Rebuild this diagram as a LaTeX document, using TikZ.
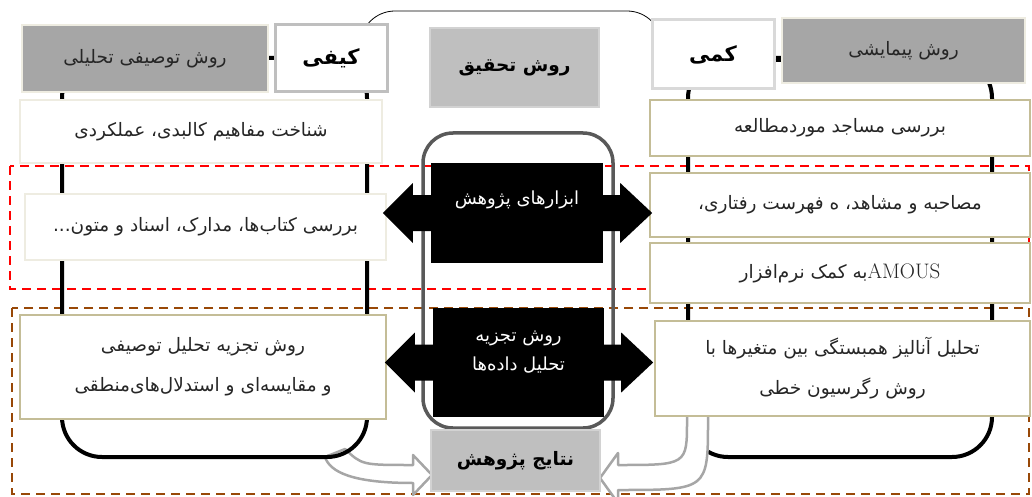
\documentclass[tikz,border=0pt]{standalone}
\usepackage{fontspec}
\newfontfamily\farsi[Script=Arabic]{DejaVu Sans}
\TeXXeTstate=1
\definecolor{boxgray}{HTML}{A6A6A6}
\definecolor{titlegray}{HTML}{BFBFBF}
\definecolor{paleedge}{HTML}{EEECE1}
\definecolor{tanedge}{HTML}{C4BD97}
\definecolor{brownline}{HTML}{984807}
\definecolor{frameline}{HTML}{595959}
\newcommand{\fatext}[1]{\beginR #1\endR}

\begin{document}
\begin{tikzpicture}[x=1pt, y=-1pt,
  block/.style={draw=paleedge, line width=1.5pt, fill=white, inner sep=0pt, text=black!85, align=center, font=\farsi\fontsize{18.5}{22}\selectfont},
  tanblock/.style={block, draw=tanedge},
  twoline/.style={tanblock, font=\farsi\fontsize{18.5}{40}\selectfont},
  headblock/.style={block, fill=boxgray},
  kindblock/.style={block, line width=3pt, text=black, font=\farsi\bfseries\fontsize{21}{24}\selectfont},
  titleblock/.style={block, fill=titlegray, draw=titlegray!70, text=black, font=\farsi\bfseries\fontsize{18.5}{20}\selectfont},
  callout/.style={fill=black, inner sep=0pt},
  calltext/.style={text=white, align=center, font=\farsi\fontsize{18}{29}\selectfont},
  frame/.style={line width=4pt, rounded corners=40pt},
  band/.style={line width=1.5pt, dash pattern=on 9pt off 6pt},
  hollow/.style={draw=boxgray, line width=2.5pt, fill=white, line join=round},
  dot/.style={line width=3pt}]

  \useasboundingbox (0,0) rectangle (1032,497);

  % Dashed bands
  \draw[band, red] (10,166) rectangle (1029,289);
  \draw[band, brownline] (12,308) rectangle (1029,494);

  % Arc over the title
  \draw[line width=0.8pt, rounded corners=35pt] (360,60) -- (360,11) -- (662,11) -- (662,60);

  % Hollow arrow, left side
  \draw[hollow] (345,449) .. controls (362,465) .. (413,465) -- (413,455) -- (432,475)
    -- (413,495) -- (413,483) .. controls (352,483) and (330,472) .. (325,457) -- cycle;

  % Frames
  \draw[frame] (62,58) rectangle (367,457);
  \draw[frame] (688,58) rectangle (992,457);
  \draw[frame, frameline, line width=3.5pt, rounded corners=30pt] (423,133) rectangle (613,428);

  % Hollow arrow, right side
  \draw[hollow] (687,405) -- (687,420) .. controls (687,465) .. (618,465) -- (618,453) -- (600,478)
    -- (618,503) -- (618,490) .. controls (708,490) .. (708,420) -- (708,405) -- cycle;

  % Left column
  \node[headblock, minimum width=246pt, minimum height=67pt] (qualmethod) at (145,58.5) {\fatext{روش توصیفی تحلیلی}};
  \node[kindblock, draw=titlegray, minimum width=112pt, minimum height=67pt] (qual) at (331,58.5) {\fatext{کیفی}};
  \node[block, minimum width=362pt, minimum height=63pt] (concepts) at (201,131.5) {\fatext{شناخت مفاهیم کالبدی، عملکردی}};
  \node[block, minimum width=361pt, minimum height=66pt] (books) at (205.5,227) {\fatext{بررسی کتاب‌ها، مدارک، اسناد و متون...}};
  \node[twoline, minimum width=366pt, minimum height=104pt] (descr) at (203,367) {\fatext{روش تجزیه تحلیل توصیفی}\\\fatext{و مقایسه‌ای و استدلال‌های‌منطقی}};

  % Middle column
  \node[titleblock, minimum width=169pt, minimum height=79pt] (method) at (514.5,67.5) {\fatext{روش تحقیق}};
  \node[titleblock, minimum width=169pt, minimum height=61pt] (results) at (515.5,460.5) {\fatext{نتایج پژوهش}};

  % Right column
  \node[kindblock, draw=black!15, minimum width=122pt, minimum height=69pt] (quant) at (713,54.5) {\fatext{کمی}};
  \node[headblock, minimum width=243pt, minimum height=65pt] (quantmethod) at (903.5,50.5) {\fatext{روش پیمایشی}};
  \node[tanblock, minimum width=380pt, minimum height=56pt] (mosques) at (840,128) {\fatext{بررسی مساجد موردمطالعه}};
  \node[tanblock, minimum width=380pt, minimum height=64pt] (interview) at (840,205) {\fatext{مصاحبه و مشاهد، ه فهرست رفتاری،}};
  \node[tanblock, minimum width=380pt, minimum height=60pt] (software) at (840,273) {\fatext{\beginL{\rmfamily\fontsize{21}{22}\selectfont AMOUS}\endL{}به کمک نرم‌افزار}};
  \node[twoline, minimum width=375pt, minimum height=95pt] (regression) at (842.5,368.5) {\fatext{تحلیل آنالیز همبستگی بین متغیرها با}\\\fatext{روش رگرسیون خطی}};

  % Links between the top boxes
  \draw[dot] (qualmethod.east) -- (qual.west);
  \draw[dot] ([yshift=-6pt]quant.east) -- ([yshift=-6pt]quant.east -| quantmethod.west);

  % Black callouts with two-way arrows
  \node[callout, minimum width=172pt, minimum height=100pt, label={[calltext, yshift=13pt]center:{\beginR ابزارهای پژوهش\endR}}] (tools) at (517,213) {};
  \node[callout, minimum width=171pt, minimum height=109pt, label={[calltext, yshift=10pt]center:{\beginR روش تجزیه\endR\\\beginR تحلیل داده‌ها\endR}}] (analysis) at (518.5,362.5) {};
  \foreach \n in {tools, analysis} {
    \fill (\n.west) ++(0,-18) -- ++(-18,0) -- ++(0,-12) -- ++(-30,30) -- ++(30,30) -- ++(0,-12) -- ++(18,0) -- cycle;
    \fill (\n.east) ++(0,-18) -- ++(17,0) -- ++(0,-12) -- ++(32,30) -- ++(-32,30) -- ++(0,-12) -- ++(-17,0) -- cycle;
  }

\end{tikzpicture}
\end{document}
